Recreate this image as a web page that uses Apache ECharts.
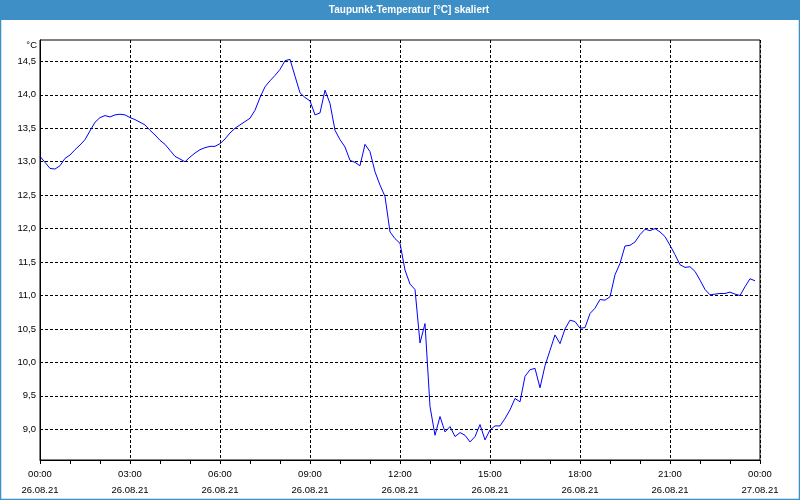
<!DOCTYPE html>
<html>
<head>
<meta charset="utf-8">
<script src="https://cdn.jsdelivr.net/npm/echarts@6/dist/echarts.min.js"></script>
<style>
  html, body { margin: 0; padding: 0; background: #fff; }
  #taupunkt-chart { width: 800px; height: 500px; }
</style>
</head>
<body>
<div id="taupunkt-chart"></div>
<script>
// Taupunkt in °C, ein Wert alle 10 Minuten ab 26.08.21 00:00
const dewpoint = [
  13.08, 12.99, 12.90, 12.89, 12.94, 13.05, 13.10, 13.18, 13.25, 13.33,
  13.46, 13.59, 13.66, 13.69, 13.67, 13.70, 13.71, 13.70, 13.66, 13.63,
  13.59, 13.55, 13.47, 13.40, 13.32, 13.26, 13.17, 13.08, 13.04, 13.00,
  13.07, 13.13, 13.18, 13.21, 13.23, 13.23, 13.27, 13.34, 13.43, 13.50,
  13.55, 13.60, 13.65, 13.77, 13.96, 14.12, 14.21, 14.29, 14.38, 14.51,
  14.53, 14.28, 14.03, 13.96, 13.91, 13.70, 13.73, 14.07, 13.87, 13.47,
  13.33, 13.22, 13.02, 12.99, 12.94, 13.26, 13.15, 12.85, 12.65, 12.48,
  11.95, 11.85, 11.78, 11.38, 11.17, 11.09, 10.29, 10.58, 9.34, 8.91,
  9.19, 8.96, 9.04, 8.89, 8.95, 8.91, 8.81, 8.89, 9.07, 8.84,
  8.99, 9.05, 9.05, 9.16, 9.29, 9.46, 9.41, 9.79, 9.89, 9.91,
  9.62, 9.95, 10.18, 10.41, 10.28, 10.50, 10.63, 10.61, 10.51, 10.52,
  10.73, 10.81, 10.94, 10.93, 10.98, 11.31, 11.48, 11.74, 11.75, 11.80,
  11.91, 11.99, 11.97, 12.00, 11.95, 11.88, 11.75, 11.61, 11.46, 11.42,
  11.43, 11.36, 11.23, 11.09, 11.01, 11.02, 11.03, 11.03, 11.05, 11.02,
  11.00, 11.13, 11.25, 11.22
];
const stepMinutes = 10;

const xTickTimes = ['00:00', '03:00', '06:00', '09:00', '12:00', '15:00', '18:00', '21:00', '00:00'];
const xTickDates = ['26.08.21', '26.08.21', '26.08.21', '26.08.21', '26.08.21', '26.08.21', '26.08.21', '26.08.21', '27.08.21'];
const yTickValues = [9.0, 9.5, 10.0, 10.5, 11.0, 11.5, 12.0, 12.5, 13.0, 13.5, 14.0, 14.5];

const chart = echarts.init(document.getElementById('taupunkt-chart'));

const labelFont = {
  color: '#000',
  fontFamily: 'Liberation Sans',
  fontSize: 9.5
};

let option = {
  animation: false,
  backgroundColor: '#fff',
  graphic: [
    {
      type: 'rect',
      shape: { x: 0, y: 0, width: 800, height: 20 },
      style: { fill: '#3d8fc6' },
      silent: true
    },
    {
      type: 'rect',
      shape: { x: 0.5, y: 0.5, width: 799, height: 499 },
      style: { fill: 'none', stroke: '#3d8fc6', lineWidth: 1.5 },
      silent: true
    },
    {
      type: 'text',
      x: 409,
      y: 10,
      style: {
        text: 'Taupunkt-Temperatur [°C] skaliert',
        fill: '#fff',
        font: 'bold 10px "Liberation Sans"',
        textAlign: 'center',
        textVerticalAlign: 'middle'
      },
      silent: true
    },
    {
      type: 'text',
      x: 37,
      y: 45,
      style: {
        text: '°C',
        fill: '#000',
        font: '9.5px "Liberation Sans"',
        textAlign: 'right',
        textVerticalAlign: 'middle'
      },
      silent: true
    }
  ],
  grid: {
    left: 40,
    right: 40,
    top: 40,
    bottom: 40,
    show: true,
    borderColor: '#000',
    borderWidth: 1,
    backgroundColor: '#fff'
  },
  xAxis: {
    type: 'value',
    min: 0,
    max: 1440,
    interval: 180,
    axisLine: { lineStyle: { color: '#000', width: 1 } },
    axisTick: { show: true, length: 4, lineStyle: { color: '#000' } },
    minorTick: { show: true, splitNumber: 3, length: 4, lineStyle: { color: '#000' } },
    splitLine: { show: true, lineStyle: { color: '#000', type: [3, 2], width: 1 } },
    axisLabel: Object.assign({
      margin: 6,
      lineHeight: 16,
      formatter: function (value) {
        const i = Math.round(value / 180);
        return xTickTimes[i] + '\n' + xTickDates[i];
      }
    }, labelFont)
  },
  yAxis: {
    type: 'value',
    min: 8.54,
    max: 14.82,
    axisLine: { show: true, lineStyle: { color: '#000', width: 1 } },
    axisTick: { show: false, customValues: yTickValues },
    splitLine: { show: true, lineStyle: { color: '#000', type: [3, 2], width: 1 } },
    axisLabel: Object.assign({
      margin: 4,
      customValues: yTickValues,
      formatter: function (value) {
        return value.toFixed(1).replace('.', ',');
      }
    }, labelFont)
  },
  series: [
    {
      name: 'Taupunkt',
      type: 'line',
      symbol: 'none',
      lineStyle: { color: '#0000ff', width: 1 },
      data: dewpoint.map(function (v, i) { return [i * stepMinutes, v]; })
    }
  ]
};
chart.setOption(option);
</script>
</body>
</html>
